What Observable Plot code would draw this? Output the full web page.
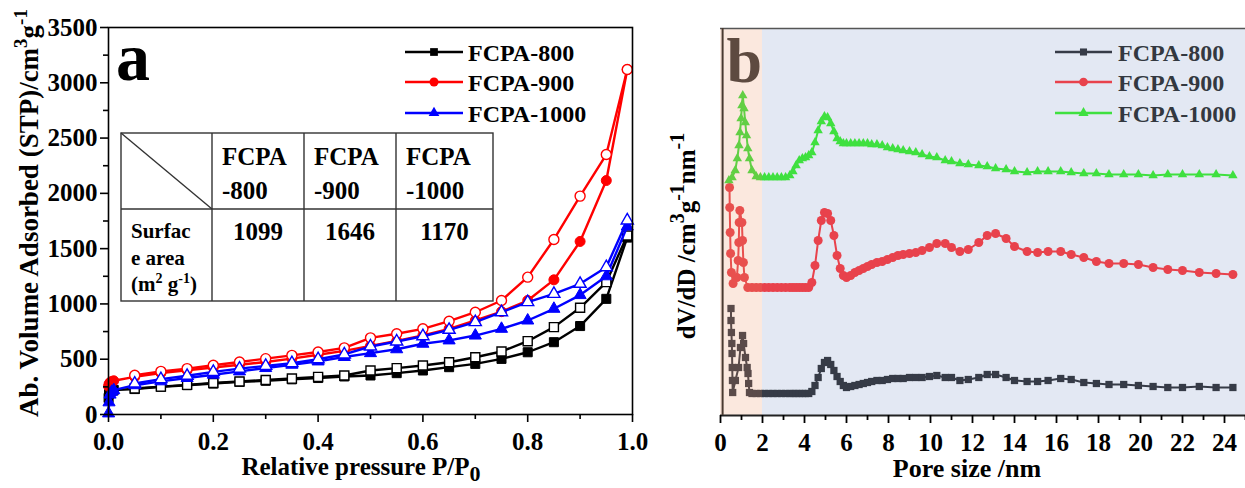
<!DOCTYPE html>
<html><head><meta charset="utf-8">
<script src="https://cdn.jsdelivr.net/npm/d3@7"></script>
<script src="https://cdn.jsdelivr.net/npm/@observablehq/plot@0.6"></script>
<style>
body{margin:0;background:#fff;width:1245px;height:488px;overflow:hidden;position:relative}
#a{position:absolute;left:0;top:0;width:660px;height:488px}
#b{position:absolute;left:660px;top:0;width:585px;height:488px}
</style></head><body>
<div id="a"></div><div id="b"></div>
<script>
// ================= Panel a : N2 isotherms =================
const seriesNames = ["FCPA-800", "FCPA-900", "FCPA-1000"];
const colorsA = ["#000000", "#ff0000", "#0000ff"];
const colorsB = ["#363b47", "#e8424c", "#3fe03f"];
const symbols = ["square", "circle", "triangle"];
const surfaceArea = [1099, 1646, 1170];

const pressureAds = [0.0002,0.001,0.003,0.006,0.01,0.05,0.1,0.15,0.2,0.25,0.3,0.35,0.4,0.45,0.5,0.55,0.6,0.65,0.7,0.75,0.8,0.85,0.9,0.95,0.99];
const pressureDes = [0.99,0.95,0.9,0.85,0.8,0.75,0.7,0.65,0.6,0.55,0.5,0.45,0.4,0.35,0.3,0.25,0.2,0.15,0.1,0.05];

const ads800  = [150,185,205,215,222,230,250,265,280,295,305,318,330,344,353,374,398,428,458,503,563,654,800,1046,1600];
const des800  = [1619,1197,965,790,663,570,518,473,443,419,398,353,340,325,312,298,285,268,252,235];
const ads900  = [255,275,290,298,305,340,375,400,425,450,475,505,540,575,620,665,715,775,850,930,1031,1218,1565,2116,3120];
const des900  = [3120,2351,1975,1583,1242,1031,925,844,775,730,693,603,565,535,505,475,445,415,390,355];
const ads1000 = [10,110,180,205,220,265,300,330,360,390,420,450,480,520,555,590,640,670,714,775,850,956,1080,1250,1700];
const des1000 = [1755,1332,1182,1091,1016,925,835,766,708,660,615,543,500,465,440,415,385,350,320,280];

const xTicksA = [0, 0.2, 0.4, 0.6, 0.8, 1.0];
const xMinorA = [0.1, 0.3, 0.5, 0.7, 0.9];
const yTicksA = [0, 500, 1000, 1500, 2000, 2500, 3000, 3500];
const yMinorA = [250, 750, 1250, 1750, 2250, 2750, 3250];

// ================= Panel b : pore size distribution =================
const micro800X  = [0.5,0.5,0.52,0.54,0.55,0.56,0.57,0.58,0.71,0.86,0.95,1.05,1.1,1.19,1.27,1.31,1.34,1.38];
const micro800Y  = [1.07,0.95,0.83,0.72,0.62,0.48,0.35,0.23,0.35,0.48,0.68,0.80,0.72,0.58,0.48,0.42,0.32,0.23];
const micro900X  = [0.43,0.44,0.46,0.48,0.52,0.6,0.78,0.84,0.87,0.89,0.92,1.02,1.05,1.09,1.14,1.3];
const micro900Y  = [2.28,2.08,1.83,1.62,1.43,1.32,1.38,1.55,1.73,1.93,2.05,1.93,1.75,1.53,1.38,1.28];
const micro1000X = [0.4,0.55,0.7,0.8,0.88,0.93,0.98,1.02,1.06,1.12,1.18,1.24,1.3,1.38];
const micro1000Y = [2.35,2.38,2.45,2.57,2.70,2.83,2.97,3.10,3.20,3.07,2.93,2.80,2.67,2.57];

const poreMeso = [1.5,1.7,1.9,2.1,2.3,2.5,2.7,2.9,3.1,3.3,
  3.45,3.6,3.75,3.9,4.05,4.2,4.35,4.5,4.65,4.8,4.95,5.1,5.25,5.4,5.55,5.7,5.85,
  6.0,6.2,6.4,6.6,6.8,7.0,7.2,
  7.45,7.7,7.95,8.2,8.45,8.7,
  9.0,9.3,9.6,9.95,10.3,
  10.7,11.0,11.4,11.8,12.3,12.7,13.1,13.6,14.0,14.6,15.1,15.6,16.2,16.7,17.3,17.9,18.5,19.2,19.9,20.6,21.3,22.0,22.8,23.6,24.4];
const meso800 = [0.22,0.22,0.22,0.22,0.22,0.22,0.22,0.22,0.22,0.22,
  0.22,0.22,0.22,0.22,0.22,0.22,0.24,0.30,0.38,0.47,0.53,0.55,0.51,0.45,0.39,0.34,0.30,
  0.28,0.29,0.30,0.31,0.32,0.33,0.34,
  0.35,0.35,0.36,0.37,0.37,0.37,
  0.38,0.38,0.38,0.39,0.40,
  0.38,0.38,0.35,0.36,0.38,0.41,0.41,0.38,0.35,0.34,0.34,0.35,0.37,0.36,0.33,0.32,0.31,0.31,0.30,0.29,0.28,0.28,0.29,0.28,0.28];
const meso900 = [1.28,1.28,1.28,1.28,1.28,1.28,1.28,1.28,1.28,1.28,
  1.28,1.28,1.28,1.28,1.28,1.28,1.33,1.50,1.75,1.95,2.03,2.02,1.95,1.80,1.60,1.47,1.40,
  1.38,1.40,1.43,1.45,1.47,1.49,1.51,
  1.53,1.54,1.56,1.58,1.60,1.61,
  1.62,1.63,1.65,1.68,1.72,
  1.72,1.68,1.64,1.66,1.73,1.80,1.82,1.77,1.69,1.64,1.63,1.64,1.64,1.61,1.58,1.54,1.52,1.52,1.51,1.48,1.46,1.45,1.43,1.42,1.41];
const meso1000 = [2.45,2.39,2.38,2.38,2.38,2.38,2.38,2.38,2.38,2.40,
  2.44,2.50,2.55,2.57,2.58,2.60,2.63,2.73,2.85,2.94,2.99,2.98,2.92,2.84,2.77,2.74,2.72,
  2.72,2.72,2.72,2.72,2.72,2.72,2.71,
  2.71,2.70,2.68,2.67,2.66,2.65,
  2.64,2.63,2.61,2.59,2.58,
  2.55,2.54,2.52,2.51,2.50,2.49,2.47,2.46,2.44,2.43,2.44,2.44,2.44,2.43,2.42,2.42,2.41,2.41,2.41,2.40,2.41,2.41,2.41,2.41,2.40];

const xTicksB = [0,2,4,6,8,10,12,14,16,18,20,22,24];
const xMinorB = [1,3,5,7,9,11,13,15,17,19,21,23,25];
const regionsB = [{name: "micro", from: 0, to: 2}, {name: "meso", from: 2, to: 25}];

// ---------- build panel a ----------
const FONT = "Liberation Serif, Times New Roman, serif";
const adsA = [ads800, ads900, ads1000];
const desA = [des800, des900, des1000];
const rA = [5.1, 5, 4.5];
const marksA = [];
seriesNames.forEach((name, i) => {
  const ads = pressureAds.map((p, j) => ({p, v: adsA[i][j]}));
  const des = pressureDes.map((p, j) => ({p, v: desA[i][j]}));
  marksA.push(
    Plot.line(ads, {x: "p", y: "v", stroke: colorsA[i], strokeWidth: 2.4}),
    Plot.line(des, {x: "p", y: "v", stroke: colorsA[i], strokeWidth: 2.4}),
    Plot.dot(ads, {x: "p", y: "v", symbol: symbols[i], r: rA[i], fill: colorsA[i], stroke: colorsA[i], strokeWidth: 1}),
    Plot.dot(des, {x: "p", y: "v", symbol: symbols[i], r: rA[i], fill: "white", stroke: colorsA[i], strokeWidth: 1.4})
  );
});
const plotA = Plot.plot({
  width: 660, height: 488,
  marginLeft: 108, marginRight: 28, marginTop: 27, marginBottom: 74,
  x: {domain: [0, 1]},
  y: {domain: [0, 3500]},
  style: {fontFamily: FONT, fontWeight: "bold", fontSize: "25px", color: "#000", background: "transparent", overflow: "visible"},
  marks: [
    ...marksA,
    Plot.frame({stroke: "#000", strokeWidth: 1.6}),
    Plot.axisX(xTicksA, {tickSize: 8, tickPadding: 10, strokeWidth: 1.6, tickFormat: d3.format(".1f"), label: null, fontSize: 25, fontWeight: "bold"}),
    Plot.axisX(xMinorA, {tickSize: 5, strokeWidth: 1.6, tickFormat: () => "", label: null}),
    Plot.axisY(yTicksA, {tickSize: 8, tickPadding: 3, strokeWidth: 1.6, tickFormat: d => String(d), label: null, fontSize: 25, fontWeight: "bold"}),
    Plot.axisY(yMinorA, {tickSize: 5, strokeWidth: 1.6, tickFormat: () => "", label: null})
  ]
});
document.getElementById("a").appendChild(plotA);

// ---------- build panel b ----------
const microX = [micro800X, micro900X, micro1000X];
const microY = [micro800Y, micro900Y, micro1000Y];
const mesoY = [meso800, meso900, meso1000];
const rB = [4.1, 4.5, 3.5];
const marksB = [
  Plot.rect(regionsB.filter(d => d.name === "meso"), {x1: "from", x2: "to", fill: "#e3e8f3"})
];
seriesNames.forEach((name, i) => {
  const rows = microX[i].map((x, j) => ({x, v: microY[i][j]}))
    .concat(poreMeso.map((x, j) => ({x, v: mesoY[i][j]})));
  marksB.push(
    Plot.line(rows, {x: "x", y: "v", stroke: colorsB[i], strokeWidth: 2}),
    Plot.dot(rows, {x: "x", y: "v", symbol: symbols[i], r: rB[i], fill: colorsB[i], stroke: "none"})
  );
});
const plotB = Plot.plot({
  width: 585, height: 488,
  marginLeft: 60, marginRight: 0, marginTop: 28, marginBottom: 73,
  x: {domain: [0, 25]},
  y: {domain: [0, 3.87], axis: null},
  style: {fontFamily: FONT, fontWeight: "bold", fontSize: "25px", color: "#000", background: "transparent", overflow: "visible"},
  marks: [
    ...marksB,
    Plot.text(["b"], {frameAnchor: "top-left", dx: 6, dy: 8, fontSize: 64, fontWeight: "bold", fill: "#3a3a3a", lineAnchor: "top"}),
    Plot.rect(regionsB.filter(d => d.name === "micro"), {x1: "from", x2: "to", fill: "rgb(235,140,90)", fillOpacity: 0.2}),
    Plot.ruleY([3.87], {stroke: "#555", strokeWidth: 1.5}),
    Plot.ruleY([0], {stroke: "#222", strokeWidth: 2}),
    Plot.ruleX([0.1], {stroke: "#4a3a30", strokeWidth: 2}),
    Plot.axisX(xTicksB, {tickSize: 8, tickPadding: 10, strokeWidth: 1.8, label: null, fontSize: 25, fontWeight: "bold"}),
    Plot.axisX(xMinorB, {tickSize: 5, strokeWidth: 1.8, tickFormat: () => "", label: null})
  ]
});
document.getElementById("b").appendChild(plotB);

// ---------- overlay: labels, legends, table, titles ----------
const ov = d3.select("body").append("svg")
  .attr("width", 1245).attr("height", 488)
  .style("position", "absolute").style("left", "0px").style("top", "0px")
  .attr("font-family", FONT).attr("font-weight", "bold");

const symbolMap = {square: d3.symbolSquare, circle: d3.symbolCircle, triangle: d3.symbolTriangle};
function legend(x0, x1, xt, rows, cols, textColor, sizes) {
  seriesNames.forEach((name, i) => {
    const y = rows[i];
    ov.append("line").attr("x1", x0).attr("x2", x1).attr("y1", y).attr("y2", y)
      .attr("stroke", cols[i]).attr("stroke-width", 2.4);
    ov.append("path").attr("d", d3.symbol(symbolMap[symbols[i]], sizes[i])())
      .attr("transform", `translate(${(x0 + x1) / 2},${y})`).attr("fill", cols[i]);
    ov.append("text").attr("x", xt).attr("y", y + 8.5).attr("font-size", 24)
      .attr("fill", textColor).text(name);
  });
}
legend(405, 463, 468, [52, 82, 113], colorsA, "#000", [60, 64, 50]);
legend(1055, 1112, 1118, [52, 82, 113], colorsB, "#333840", [50, 60, 45]);

// label a
ov.append("text").attr("x", 116).attr("y", 80).attr("font-size", 68).text("a");

// table
const tb = ov.append("g").attr("stroke", "#333").attr("stroke-width", 1.4).attr("fill", "none");
tb.append("rect").attr("x", 121).attr("y", 133).attr("width", 372).attr("height", 168);
[212, 304, 396].forEach(x => tb.append("line").attr("x1", x).attr("x2", x).attr("y1", 133).attr("y2", 301));
tb.append("line").attr("x1", 121).attr("x2", 493).attr("y1", 209).attr("y2", 209);
tb.append("line").attr("x1", 121).attr("x2", 212).attr("y1", 133).attr("y2", 209);
const colLeft = [222, 314, 406];
const colMid = [258, 350, 444.5];
seriesNames.forEach((name, i) => {
  const parts = name.split("-");
  ov.append("text").attr("x", colLeft[i]).attr("y", 165).attr("font-size", 25).text(parts[0]);
  ov.append("text").attr("x", colLeft[i]).attr("y", 199).attr("font-size", 25).text("-" + parts[1]);
  ov.append("text").attr("x", colMid[i]).attr("y", 240).attr("font-size", 25).attr("text-anchor", "middle").text(String(surfaceArea[i]));
});
ov.append("text").attr("x", 131).attr("y", 238).attr("font-size", 21).text("Surfac");
ov.append("text").attr("x", 131).attr("y", 265).attr("font-size", 21).text("e area");
const unitT = ov.append("text").attr("x", 131).attr("y", 291).attr("font-size", 21);
unitT.append("tspan").text("(m");
unitT.append("tspan").attr("dy", -8).attr("font-size", 14).text("2");
unitT.append("tspan").attr("dy", 8).text(" g");
unitT.append("tspan").attr("dy", -8).attr("font-size", 14).text("-1");
unitT.append("tspan").attr("dy", 8).text(")");

// axis titles
const xa = ov.append("text").attr("x", 361).attr("y", 475).attr("font-size", 25).attr("text-anchor", "middle");
xa.append("tspan").text("Relative pressure P/P");
xa.append("tspan").attr("dy", 6).attr("font-size", 22).text("0");

const ya = ov.append("text").attr("transform", "translate(38,213) rotate(-90)").attr("font-size", 27).attr("text-anchor", "middle");
ya.append("tspan").text("Ab. Volume Adsorbed (STP)/cm");
ya.append("tspan").attr("dy", -11).attr("font-size", 19).text("3");
ya.append("tspan").attr("dy", 11).text("g");
ya.append("tspan").attr("dy", -11).attr("font-size", 19).text("-1");

ov.append("text").attr("x", 967).attr("y", 477).attr("font-size", 26).attr("text-anchor", "middle").text("Pore size /nm");

const yb = ov.append("text").attr("transform", "translate(695,236) rotate(-90)").attr("font-size", 25).attr("text-anchor", "middle");
yb.append("tspan").text("dV/dD /cm");
yb.append("tspan").attr("dy", -11).attr("font-size", 20).text("3");
yb.append("tspan").attr("dy", 11).text("g");
yb.append("tspan").attr("dy", -11).attr("font-size", 20).text("-1");
yb.append("tspan").attr("dy", 11).text("nm");
yb.append("tspan").attr("dy", -11).attr("font-size", 20).text("-1");
</script>
</body></html>
